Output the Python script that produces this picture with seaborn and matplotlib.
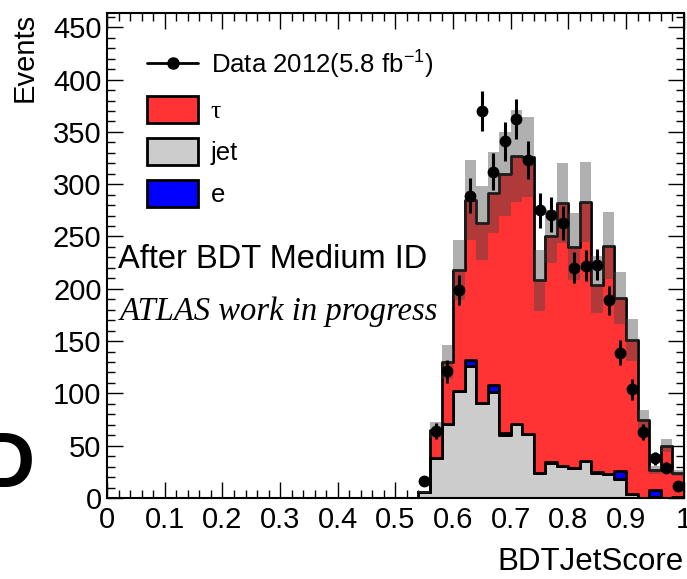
import numpy as np
import pandas as pd
import matplotlib
matplotlib.use("Agg")
import matplotlib.pyplot as plt
import seaborn as sns
from matplotlib.lines import Line2D
from matplotlib.patches import Patch
from matplotlib.ticker import MultipleLocator

# ---------------- data ----------------
bin_centers = [0.55, 0.57, 0.59, 0.61, 0.63, 0.65, 0.67, 0.69, 0.71, 0.73, 0.75, 0.77,
               0.79, 0.81, 0.83, 0.85, 0.87, 0.89, 0.91, 0.93, 0.95, 0.97, 0.99]
jet_counts = [6, 38, 71, 102, 126, 91, 101, 60, 71, 61, 24, 33,
              31, 29, 35, 24, 23, 18, 4, 0, 1, 0, 1]
ele_counts = [0, 0, 0, 0, 6, 0, 7, 2, 0, 0, 0, 1,
              0, 0, 0, 1, 0, 8, 0, 0, 7, 0, 0]
tau_counts = [0, 27, 59, 116, 153, 172, 184, 248, 256, 265, 184, 216,
              251, 211, 248, 179, 218, 165, 147, 75, 19, 50, 23]
syst_err = [1, 8, 16, 29, 38, 35, 39, 40, 44, 38, 29, 25,
            38, 32, 38, 27, 32, 25, 20, 9, 4, 6, 3]
data_counts = [16, 64, 121, 199, 289, 370, 312, 341, 362, 323, 275, 271,
               263, 220, 222, 223, 189, 139, 104, 63, 38, 29, 11]

x_ticks = [0, 0.1, 0.2, 0.3, 0.4, 0.5, 0.6, 0.7, 0.8, 0.9, 1.0]
x_tick_labels = ["0", "0.1", "0.2", "0.3", "0.4", "0.5", "0.6", "0.7", "0.8", "0.9", "1"]
y_ticks = [0, 50, 100, 150, 200, 250, 300, 350, 400, 450]

legend_labels = ["Data 2012(5.8 fb$^{-1}$)", "τ", "jet", "e"]

RED = "#ff3333"
GRAY = "#cccccc"
BLUE = "#0000ff"

# ---------------- style ----------------
sns.set_theme(style="ticks")
plt.rcParams["font.family"] = ["Liberation Sans", "DejaVu Sans"]
plt.rcParams["mathtext.fontset"] = "custom"
plt.rcParams["mathtext.rm"] = "Liberation Sans"
plt.rcParams["mathtext.default"] = "regular"
for key in ["text.color", "axes.labelcolor", "xtick.color", "ytick.color",
            "axes.edgecolor"]:
    plt.rcParams[key] = "black"

fig = plt.figure(figsize=(6.87, 5.79), dpi=100)
ax = fig.add_axes([0.1560, 0.1399, 0.8391, 0.8377])
ax.set_facecolor("white")

n = len(bin_centers)
df = pd.DataFrame({
    "score": bin_centers * 3,
    "events": tau_counts + ele_counts + jet_counts,
    "comp": ["τ"] * n + ["e"] * n + ["jet"] * n,
})

edges = [round(0.54 + 0.02 * i, 2) for i in range(24)]

sns.histplot(data=df, x="score", weights="events", hue="comp",
             hue_order=["τ", "e", "jet"], multiple="stack", bins=edges,
             element="step", palette={"τ": RED, "e": BLUE, "jet": GRAY},
             edgecolor="black", linewidth=2.0, alpha=1, legend=False, ax=ax)

total = np.array(tau_counts) + np.array(ele_counts) + np.array(jet_counts)
syst = np.array(syst_err)
ax.stairs(total + syst, edges, baseline=total - syst, fill=True,
          color="#444444", alpha=0.42, lw=0, zorder=3)

data = np.array(data_counts, dtype=float)
ax.errorbar(bin_centers, data, yerr=np.sqrt(data), fmt="o", color="black",
            ms=7.5, elinewidth=2.2, capsize=0, zorder=5)

# ---------------- axes ----------------
ax.set_xlim(0, 1)
ax.set_ylim(0, 463.7)
ax.set_xticks(x_ticks, x_tick_labels)
ax.set_yticks(y_ticks)
ax.xaxis.set_minor_locator(MultipleLocator(0.02))
ax.yaxis.set_minor_locator(MultipleLocator(10))
ax.tick_params(which="both", direction="in", top=True, right=True, colors="black")
ax.tick_params(which="major", length=11.5, width=1.0)
ax.tick_params(which="minor", length=5.8, width=1.0)
ax.tick_params(axis="x", labelsize=21, pad=6)
ax.tick_params(axis="y", labelsize=21, pad=4)
for s in ax.spines.values():
    s.set_linewidth(1.5)
    s.set_color("black")
ax.grid(False)

ax.set_xlabel("BDTJetScore", fontsize=22.5, loc="right", labelpad=9)
ax.set_ylabel("Events", fontsize=21, loc="top", labelpad=10)

ax.text(0.019, 220, "After BDT Medium ID", fontsize=23.5, va="baseline")
ax.text(0.022, 170, "ATLAS work in progress", fontsize=23.5, va="baseline",
        family=["Liberation Serif"], style="italic")

handles = [
    Line2D([], [], color="black", marker="o", ms=8, lw=2),
    Patch(facecolor=RED, edgecolor="black", lw=2),
    Patch(facecolor=GRAY, edgecolor="black", lw=2),
    Patch(facecolor=BLUE, edgecolor="black", lw=2),
]
leg = ax.legend(handles, legend_labels, loc="upper left",
                bbox_to_anchor=(147 / 687, 1 - 49 / 579),
                bbox_transform=fig.transFigure, frameon=False,
                fontsize=18.5, handlelength=2.0, handleheight=1.28,
                labelspacing=0.56, handletextpad=0.48, borderpad=0,
                borderaxespad=0)
leg.get_texts()[1].set_family(["Liberation Serif"])

# stray large letter at the left edge of the reference image
fig.text(35 / 687, 1 - 487 / 579, "D", fontsize=56, fontweight="bold",
         ha="right", va="baseline")

fig.savefig("out.png", dpi=100)
